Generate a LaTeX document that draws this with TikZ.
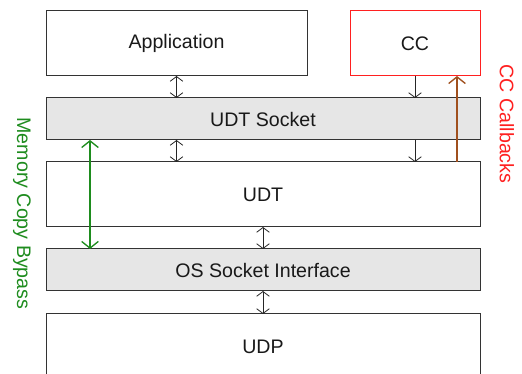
\documentclass[tikz,border=0pt]{standalone}
\usepackage{fontspec}
\setmainfont{Liberation Sans}
\usetikzlibrary{arrows.meta}
\definecolor{boxline}{HTML}{333333}
\definecolor{boxgray}{HTML}{E6E6E6}
\definecolor{ccred}{HTML}{FF2020}
\definecolor{bygreen}{HTML}{1E8C1E}
\definecolor{cbbrown}{HTML}{A0501E}
\tikzset{
  layer/.style={draw=boxline, line width=0.75pt, inner sep=0pt, outer sep=0pt,
    font=\fontsize{14.7}{16}\selectfont, text=black!90},
  widebox/.style={layer, minimum width=325.5pt},
  grayfill/.style={fill=boxgray},
  tip/.style={line width=0.6pt, draw=black!85},
  both/.style={tip, {Straight Barb[length=3.6pt,width=9.5pt]}-{Straight Barb[length=3.6pt,width=9.5pt]}},
  down/.style={tip, -{Straight Barb[length=3.6pt,width=9.5pt]}},
  sidelabel/.style={rotate=-90, font=\fontsize{14.7}{16}\selectfont}
}
\begin{document}
\begin{tikzpicture}[x=0.75pt, y=-0.75pt]
  \useasboundingbox (0,0) rectangle (522,374);
  % protocol stack
  \node[layer, minimum width=195.75pt, minimum height=48.75pt] (app) at (176.5,43.5) {Application};
  \node[layer, draw=ccred, minimum width=97.5pt, minimum height=48.75pt] (cc) at (415,43.5) {CC};
  \node[widebox, grayfill, minimum height=31.5pt] (sock) at (263,119) {UDT Socket};
  \node[widebox, minimum height=48.75pt] (udt) at (263,194.5) {UDT};
  \node[widebox, grayfill, minimum height=31.5pt] (os) at (263,270) {OS Socket Interface};
  \node[widebox, minimum height=48.75pt] (udp) at (263,346.5) {UDP};
  % columns of the side paths
  \coordinate (mbx) at (90,0);
  \coordinate (cbx) at (457,0);
  % calls between layers
  \draw[both] (app.south) -- (app.south |- sock.north);
  \draw[both] (app.south |- sock.south) -- (app.south |- udt.north);
  \draw[down] (cc.south) -- (cc.south |- sock.north);
  \draw[down] (cc.south |- sock.south) -- (cc.south |- udt.north);
  \draw[both] (udt.south) -- (os.north);
  \draw[both] (os.south) -- (udp.north);
  % memory copy bypass
  \draw[bygreen, line width=1pt, {Straight Barb[length=5pt,width=12.5pt]}-{Straight Barb[length=5pt,width=12.5pt]}]
    (mbx |- sock.south) -- (mbx |- os.north);
  % callbacks into CC
  \draw[cbbrown, line width=1pt, -{Straight Barb[length=5pt,width=12.5pt]}]
    (cbx |- udt.north) -- (cbx |- cc.south);
  % side labels
  \node[sidelabel, text=bygreen] (mlabel) at (22,213.5) {Memory Copy Bypass};
  \node[sidelabel, text=ccred] (clabel) at (507,124) {CC Callbacks};
\end{tikzpicture}
\end{document}
